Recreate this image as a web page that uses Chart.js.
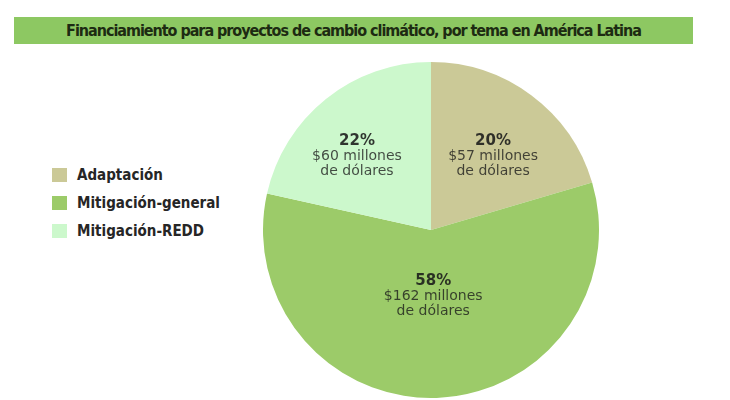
<!DOCTYPE html>
<html>
<head>
<meta charset="utf-8">
<script src="https://cdn.jsdelivr.net/npm/chart.js@4/dist/chart.umd.min.js"></script>
<style>
  html, body { margin: 0; padding: 0; background: #ffffff; }
  body { width: 730px; height: 400px; position: relative; overflow: hidden; }
  #titlebar {
    position: absolute; left: 14px; top: 17px; width: 679px; height: 27px;
    background: #8dc862;
  }
  #title {
    position: absolute; left: 0; top: 0; width: 679px; height: 27px; line-height: 27px;
    text-align: center; white-space: nowrap;
    font-family: "DejaVu Sans Condensed", "Liberation Sans Narrow", sans-serif;
    font-weight: bold; font-size: 16px; color: #1d2b12;
  }
  #legend { position: absolute; left: 52px; top: 168px; }
  .item { position: relative; height: 28px; }
  .sw { position: absolute; left: 0; top: 0; width: 15px; height: 14px; }
  .lt {
    position: absolute; left: 25px; top: -3px; line-height: 20px; white-space: nowrap;
    font-family: "DejaVu Sans Condensed", "Liberation Sans Narrow", sans-serif;
    font-weight: bold; font-size: 15px; letter-spacing: 0px; color: #262626;
  }
  #wrap { position: absolute; left: 263px; top: 62px; width: 336px; height: 336px; }
</style>
</head>
<body>
<div id="titlebar"><div id="title"></div></div>
<div id="legend"></div>
<div id="wrap"><canvas id="c" width="336" height="336"></canvas></div>
<script>
const titleText = "Financiamiento para proyectos de cambio climático, por tema en América Latina";
const categories = ["Adaptación", "Mitigación-general", "Mitigación-REDD"];
const values = [57, 162, 60];
const percentLabels = ["20%", "58%", "22%"];
const amountLabels = ["$57 millones", "$162 millones", "$60 millones"];
const unitLabel = "de dólares";
const sliceColors = ["#cbc997", "#9ccb69", "#ccf8cc"];

// Title, fitted to the reference width
const t = document.getElementById('title');
t.textContent = titleText;
(function fitTitle() {
  const ctx = document.createElement('canvas').getContext('2d');
  ctx.font = 'bold 16px "DejaVu Sans Condensed", "Liberation Sans Narrow", sans-serif';
  const w = ctx.measureText(titleText).width;
  const target = 575;
  const ls = (target - w) / titleText.length;
  t.style.letterSpacing = ls.toFixed(2) + 'px';
})();

// Legend
const lg = document.getElementById('legend');
categories.forEach((c, i) => {
  const it = document.createElement('div');
  it.className = 'item';
  const sw = document.createElement('div');
  sw.className = 'sw';
  sw.style.background = sliceColors[i];
  const lt = document.createElement('div');
  lt.className = 'lt';
  lt.textContent = c;
  it.appendChild(sw); it.appendChild(lt);
  lg.appendChild(it);
});

const sliceLabels = {
  id: 'sliceLabels',
  afterDatasetsDraw(chart, args, opts) {
    const ctx = chart.ctx;
    const meta = chart.getDatasetMeta(0);
    meta.data.forEach((arc, i) => {
      const p = arc.getProps(['x', 'y', 'startAngle', 'endAngle', 'outerRadius'], true);
      const mid = (p.startAngle + p.endAngle) / 2 + opts.turn[i] * Math.PI / 180;
      const r = p.outerRadius * opts.radial[i];
      const cx = p.x + Math.cos(mid) * r;
      const cy = p.y + Math.sin(mid) * r;
      ctx.save();
      ctx.textAlign = 'center';
      ctx.textBaseline = 'middle';
      ctx.fillStyle = 'rgba(25,25,25,0.88)';
      ctx.font = 'bold 15px "DejaVu Sans", sans-serif';
      ctx.fillText(percentLabels[i], cx, cy - 15);
      ctx.fillStyle = 'rgba(25,25,25,0.78)';
      ctx.font = '14px "DejaVu Sans", sans-serif';
      ctx.fillText(amountLabels[i], cx, cy);
      ctx.fillText(unitLabel, cx, cy + 15);
      ctx.restore();
    });
  }
};

new Chart(document.getElementById('c'), {
  type: 'pie',
  data: {
    labels: categories,
    datasets: [{
      data: values,
      backgroundColor: sliceColors,
      borderWidth: 0
    }]
  },
  options: {
    responsive: false,
    animation: false,
    layout: { padding: 0 },
    plugins: {
      legend: { display: false },
      tooltip: { enabled: false },
      title: { display: false },
      sliceLabels: { radial: [0.575, 0.393, 0.623], turn: [3.2, 0, -6.3] }
    }
  },
  plugins: [sliceLabels]
});
</script>
</body>
</html>
